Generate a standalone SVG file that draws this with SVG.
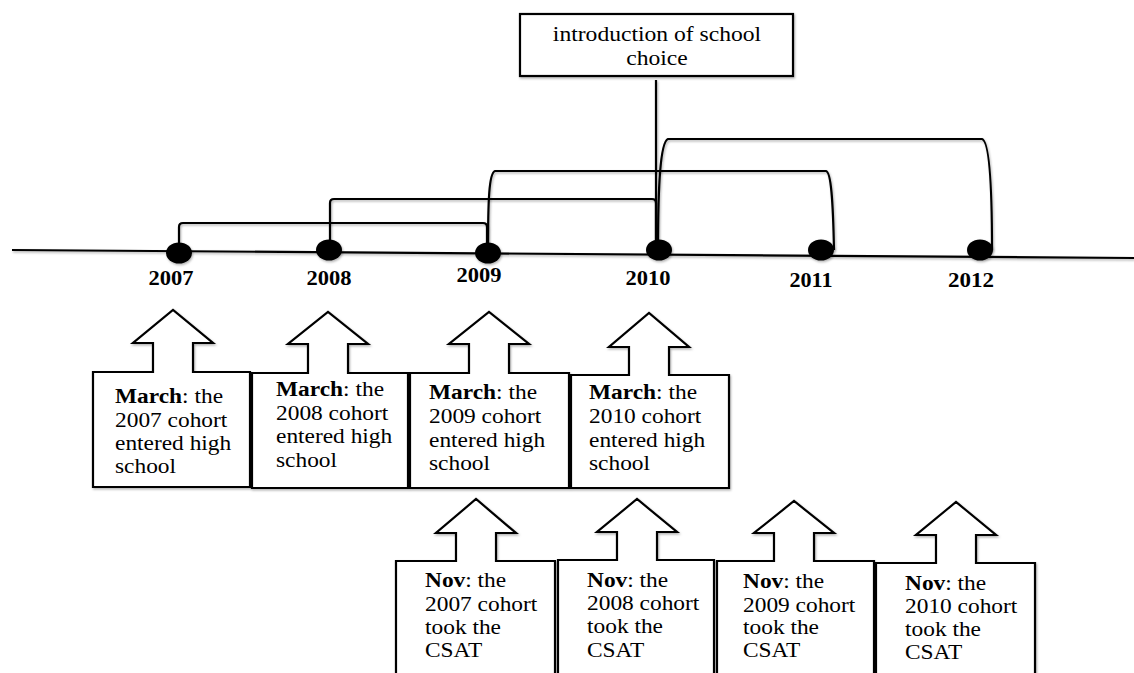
<svg xmlns="http://www.w3.org/2000/svg" width="1134" height="673" viewBox="0 0 1134 673">
<defs>
<filter id="sh" filterUnits="userSpaceOnUse" x="0" y="0" width="1134" height="700">
<feDropShadow dx="1" dy="1.5" stdDeviation="1" flood-color="#000" flood-opacity="0.3"/>
</filter>
</defs>
<style>
.ln{fill:none;stroke:#000;stroke-width:2.2;filter:url(#sh)}
.bx{fill:#fff;stroke:#000;stroke-width:2.2;filter:url(#sh)}
.dot{fill:#000;filter:url(#sh)}
text{font-family:'Liberation Serif','Times New Roman',serif}
.t{font-size:20px;fill:#000}
.yr{font-size:20px;font-weight:bold;fill:#000;text-anchor:middle}
.b{font-weight:bold}
</style>
<rect width="1134" height="673" fill="#fff"/>

<g id="connectors">
<path class="ln" d="M12,250 L1134,258"/>
<path class="ln" d="M656,80 L656,250"/>
<path class="ln" d="M179,253 L179,227 Q179,223 183,223 L483,223 Q487,223 487,227 L487,253"/>
<path class="ln" d="M330,250 L330,203 Q330,199 334,199 L652,199 Q656,199 656,203 L656,250"/>
<path class="ln" d="M488,252 C488,200 489,173 495,171 L826,171 C831,172 833,200 834,250"/>
<path class="ln" d="M658,250 C658,190 660,142 668,139 L982,139 C989,141 992,180 992,250"/>
</g>

<g id="intro">
<rect class="bx" x="520" y="14" width="273" height="62"/>
<text class="t" font-family="Liberation Serif, serif" text-anchor="middle" transform="translate(657 0) scale(1.18 1)"><tspan x="0" y="41">introduction of school</tspan><tspan x="0" y="65">choice</tspan></text>
</g>

<g id="y2007"><ellipse class="dot" cx="179" cy="253" rx="13" ry="10.5"/><text class="yr" font-family="Liberation Serif, serif" x="171" y="285" textLength="45" lengthAdjust="spacingAndGlyphs">2007</text></g>
<g id="y2008"><ellipse class="dot" cx="329" cy="250" rx="13" ry="10.5"/><text class="yr" font-family="Liberation Serif, serif" x="329" y="285" textLength="45" lengthAdjust="spacingAndGlyphs">2008</text></g>
<g id="y2009"><ellipse class="dot" cx="488" cy="253" rx="13" ry="10.5"/><text class="yr" font-family="Liberation Serif, serif" x="479" y="282" textLength="45" lengthAdjust="spacingAndGlyphs">2009</text></g>
<g id="y2010"><ellipse class="dot" cx="659" cy="250" rx="13" ry="10.5"/><text class="yr" font-family="Liberation Serif, serif" x="648" y="285" textLength="45" lengthAdjust="spacingAndGlyphs">2010</text></g>
<g id="y2011"><ellipse class="dot" cx="821" cy="250" rx="13" ry="10.5"/><text class="yr" font-family="Liberation Serif, serif" x="811" y="287" textLength="43" lengthAdjust="spacingAndGlyphs">2011</text></g>
<g id="y2012"><ellipse class="dot" cx="980" cy="250" rx="13" ry="10.5"/><text class="yr" font-family="Liberation Serif, serif" x="971" y="287" textLength="46" lengthAdjust="spacingAndGlyphs">2012</text></g>

<g id="march2007">
<path class="bx" d="M93,372 H153 V343 H133 L173,310 L213,343 H193 V372 H250 V487 H93 Z"/>
<text class="t" font-family="Liberation Serif, serif" transform="translate(115 0) scale(1.17 1)"><tspan x="0" y="403"><tspan class="b">March</tspan>: the</tspan><tspan x="0" y="427">2007 cohort</tspan><tspan x="0" y="450">entered high</tspan><tspan x="0" y="473">school</tspan></text>
</g>
<g id="march2008">
<path class="bx" d="M252,373 H308 V344 H288 L328,312 L368,344 H348 V373 H408 V488 H252 Z"/>
<text class="t" font-family="Liberation Serif, serif" transform="translate(276 0) scale(1.17 1)"><tspan x="0" y="396"><tspan class="b">March</tspan>: the</tspan><tspan x="0" y="420">2008 cohort</tspan><tspan x="0" y="443">entered high</tspan><tspan x="0" y="467">school</tspan></text>
</g>
<g id="march2009">
<path class="bx" d="M410,373 H469 V344 H449 L489,312 L529,344 H509 V373 H569 V488 H410 Z"/>
<text class="t" font-family="Liberation Serif, serif" transform="translate(429 0) scale(1.17 1)"><tspan x="0" y="399"><tspan class="b">March</tspan>: the</tspan><tspan x="0" y="423">2009 cohort</tspan><tspan x="0" y="447">entered high</tspan><tspan x="0" y="470">school</tspan></text>
</g>
<g id="march2010">
<path class="bx" d="M571,375 H629 V347 H609 L649,313 L689,347 H669 V375 H729 V488 H571 Z"/>
<text class="t" font-family="Liberation Serif, serif" transform="translate(589 0) scale(1.17 1)"><tspan x="0" y="399"><tspan class="b">March</tspan>: the</tspan><tspan x="0" y="423">2010 cohort</tspan><tspan x="0" y="447">entered high</tspan><tspan x="0" y="470">school</tspan></text>
</g>

<g id="nov2007">
<path class="bx" d="M396,561 H456 V533 H436 L476,499 L516,533 H496 V561 H555 V700 H396 Z"/>
<text class="t" font-family="Liberation Serif, serif" transform="translate(425 0) scale(1.17 1)"><tspan x="0" y="587"><tspan class="b">Nov</tspan>: the</tspan><tspan x="0" y="611">2007 cohort</tspan><tspan x="0" y="634">took the</tspan><tspan x="0" y="657">CSAT</tspan></text>
</g>
<g id="nov2008">
<path class="bx" d="M558,560 H617 V532 H597 L637,499 L677,532 H657 V560 H714 V700 H558 Z"/>
<text class="t" font-family="Liberation Serif, serif" transform="translate(587 0) scale(1.17 1)"><tspan x="0" y="587"><tspan class="b">Nov</tspan>: the</tspan><tspan x="0" y="610">2008 cohort</tspan><tspan x="0" y="633">took the</tspan><tspan x="0" y="657">CSAT</tspan></text>
</g>
<g id="nov2009">
<path class="bx" d="M717,561 H774 V533 H754 L794,501 L834,533 H814 V561 H874 V700 H717 Z"/>
<text class="t" font-family="Liberation Serif, serif" transform="translate(743 0) scale(1.17 1)"><tspan x="0" y="588"><tspan class="b">Nov</tspan>: the</tspan><tspan x="0" y="612">2009 cohort</tspan><tspan x="0" y="634">took the</tspan><tspan x="0" y="657">CSAT</tspan></text>
</g>
<g id="nov2010">
<path class="bx" d="M876,563 H936 V535 H916 L956,502 L996,535 H976 V563 H1035 V700 H876 Z"/>
<text class="t" font-family="Liberation Serif, serif" transform="translate(905 0) scale(1.17 1)"><tspan x="0" y="590"><tspan class="b">Nov</tspan>: the</tspan><tspan x="0" y="613">2010 cohort</tspan><tspan x="0" y="636">took the</tspan><tspan x="0" y="659">CSAT</tspan></text>
</g>
</svg>
